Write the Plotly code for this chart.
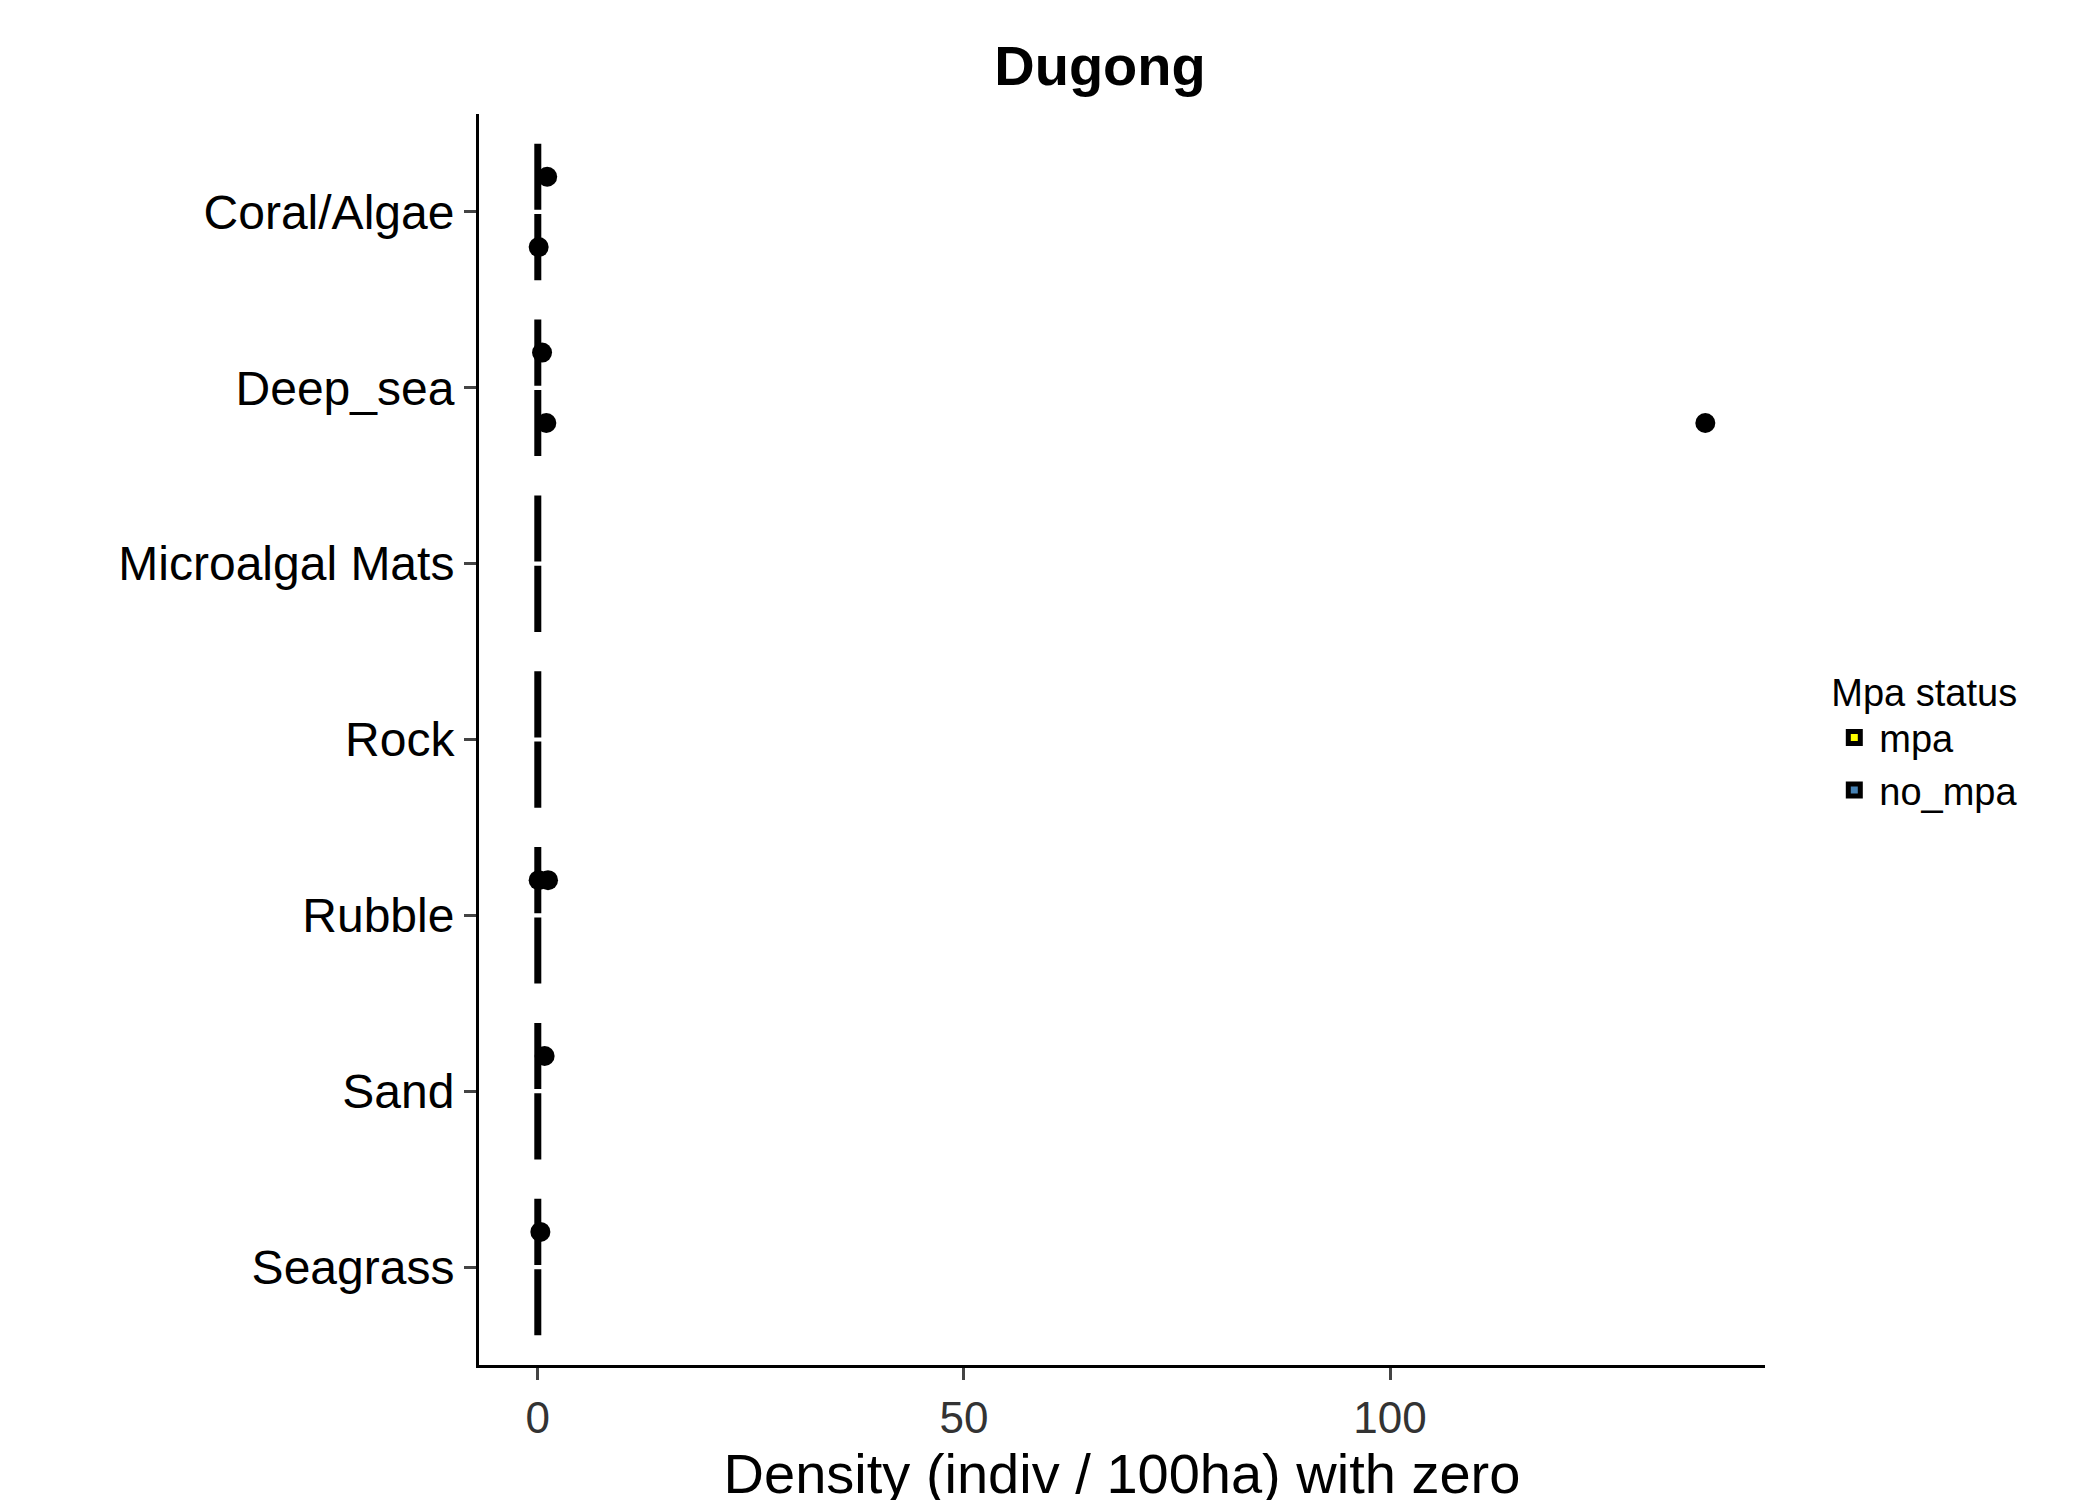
import plotly.graph_objects as go

habitats = ["Coral/Algae", "Deep_sea", "Microalgal Mats", "Rock", "Rubble", "Sand", "Seagrass"]
n_zero = 30
# outlier values, per habitat; the rest of each group is zero
mpa_outliers = {"Coral/Algae": [1.1], "Deep_sea": [0.5], "Microalgal Mats": [], "Rock": [],
                "Rubble": [0.1, 1.2], "Sand": [0.8], "Seagrass": [0.3]}
nompa_outliers = {"Coral/Algae": [0.1], "Deep_sea": [1.0, 137.0], "Microalgal Mats": [], "Rock": [],
                  "Rubble": [], "Sand": [], "Seagrass": []}


def build(outl):
    xs, ys = [], []
    for h in habitats:
        vals = [0.0] * n_zero + outl[h]
        xs += vals
        ys += [h] * len(vals)
    return xs, ys


fig = go.Figure()
for name, outl, col in [("mpa", mpa_outliers, "yellow"), ("no_mpa", nompa_outliers, "steelblue")]:
    x, y = build(outl)
    fig.add_trace(go.Box(x=x, y=y, name=name, orientation="h", fillcolor=col,
                         line=dict(color="black", width=7), boxpoints="outliers",
                         marker=dict(color="black", size=20, outliercolor="black"),
                         whiskerwidth=0))

font = "Liberation Sans, Arial"
fig.update_layout(
    width=2100, height=1500, boxmode="group", boxgap=0.2, boxgroupgap=0.06,
    plot_bgcolor="white", paper_bgcolor="white",
    margin=dict(l=471, r=343, t=106, b=143),
    font=dict(family=font, color="black"),
    title=dict(text="<b>Dugong</b>", x=0.52, xanchor="center", y=0.975, font=dict(size=56)),
    xaxis=dict(range=[-6.9, 144], tickvals=[0, 50, 100], showline=True, linecolor="black",
               linewidth=3, ticks="outside", ticklen=12, tickwidth=3, showgrid=False, zeroline=False,
               tickfont=dict(size=44, color="#333"),
               title=dict(text="Density (indiv / 100ha) with zero", font=dict(size=56), standoff=8)),
    yaxis=dict(categoryorder="array", categoryarray=habitats, autorange="reversed",
               showline=True, linecolor="black", linewidth=3, ticks="outside", ticklen=12,
               tickwidth=3, showgrid=False, tickfont=dict(size=48, color="black")),
    legend=dict(x=1.05, y=0.5, yanchor="middle", traceorder="normal", itemwidth=40,
                title=dict(text="Mpa status", font=dict(size=38)), font=dict(size=38)),
)
fig.write_html("out.html")
